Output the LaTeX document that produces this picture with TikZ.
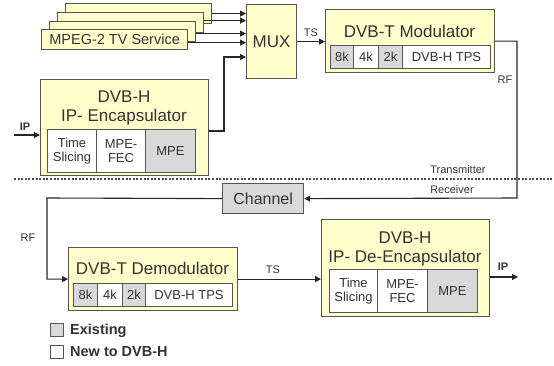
\documentclass[tikz,border=0pt]{standalone}
\usepackage{fontspec}
\setmainfont{Liberation Sans}
\usetikzlibrary{arrows.meta}
\definecolor{yfill}{HTML}{FFFFCC}
\definecolor{gfill}{HTML}{D9D9D9}
\definecolor{txt}{HTML}{333333}
\definecolor{edge}{HTML}{555555}
\begin{document}
\begin{tikzpicture}[x=1pt,y=-1pt,
  ybox/.style={draw=edge, line width=1.2pt, fill=yfill, anchor=north west, inner sep=0},
  cell/.style={draw=edge, line width=1pt, fill=white, anchor=north west, inner sep=0, align=center, text=txt, font=\fontsize{13}{14.5}\selectfont},
  gcell/.style={cell, fill=gfill},
  conn/.style={line width=1.1pt, draw=black!85},
  arr/.style={conn, -{Triangle[length=6pt,width=6pt]}},
  big/.style={font=\fontsize{17}{19}\selectfont, text=txt, inner sep=0},
  small/.style={font=\fontsize{11}{12}\selectfont, text=txt, inner sep=0},
  bsmall/.style={font=\fontsize{11}{12}\selectfont\bfseries, text=txt, inner sep=0},
  legtxt/.style={font=\fontsize{14.5}{16}\selectfont\bfseries, text=txt, inner sep=0, anchor=west}]
\useasboundingbox (0,0) rectangle (554,365);

% MPEG-2 stack
\node[ybox, minimum width=146pt, minimum height=20pt] (mpeg4) at (65,3) {};
\node[ybox, minimum width=146pt, minimum height=20pt] (mpeg3) at (57,12) {};
\node[ybox, minimum width=146pt, minimum height=20pt] (mpeg2) at (49,21) {};
\node[ybox, minimum width=146pt, minimum height=20pt, font=\fontsize{14.5}{16}\selectfont, text=txt] (mpeg1) at (41,29) {MPEG-2 TV Service};

% MUX
\node[ybox, minimum width=50pt, minimum height=74pt, font=\fontsize{17}{19}\selectfont, text=txt] (mux) at (246,4) {MUX};

\draw[arr] (mpeg4.east) -- (mpeg4.east -| mux.west);
\draw[arr] ([yshift=2pt]mpeg3.east) -- ([yshift=2pt]mpeg3.east -| mux.west);
\draw[arr] ([yshift=-2pt]mpeg2.east) -- ([yshift=-2pt]mpeg2.east -| mux.west);
\draw[arr] ([yshift=-3pt]mpeg1.east) -- ([yshift=-3pt]mpeg1.east -| mux.west);

% DVB-T Modulator
\node[ybox, minimum width=169pt, minimum height=63pt] (mod) at (325,9) {};
\node[big] (modt) at (409.5,31) {DVB-T Modulator};
\node[gcell, minimum width=23pt, minimum height=23pt] (m8k) at (330,45) {8k};
\node[cell, minimum width=25pt, minimum height=23pt] (m4k) at (353,45) {4k};
\node[gcell, minimum width=24pt, minimum height=23pt] (m2k) at (378,45) {2k};
\node[cell, minimum width=88pt, minimum height=23pt] (mtps) at (402,45) {DVB-H TPS};

\draw[arr] (mux.east) -- (mux.east -| mod.west);
\node[small] (ts1) at (311,33) {TS};

% DVB-H IP Encapsulator
\node[ybox, minimum width=168pt, minimum height=96pt] (enc) at (40,79) {};
\node[big] (enct1) at (124,97) {DVB-H};
\node[big] (enct2) at (124,117) {IP- Encapsulator};
\node[cell, minimum width=49pt, minimum height=43pt] (ets) at (47,129) {Time\\Slicing};
\node[cell, minimum width=49pt, minimum height=43pt] (efec) at (96,129) {MPE-\\FEC};
\node[gcell, minimum width=50pt, minimum height=43pt] (empe) at (145,129) {MPE};

\coordinate (ipin) at (14,135);
\draw[arr] (ipin) -- (ipin -| enc.west);
\node[bsmall] (iplab1) at (25,127) {IP};

\coordinate (encj) at (224,131);
\coordinate (muxin) at (246,57);
\draw[arr] (enc.east |- encj) -- (encj) |- (muxin);

% separator
\draw[line width=1.3pt, draw=black!70, dash pattern=on 2pt off 1.6pt] (14,179) -- (554,179);
\node[small] (txl) at (458,170) {Transmitter};
\node[small] (rxl) at (452,190) {Receiver};

% Channel
\node[draw=edge, line width=1.2pt, fill=gfill, minimum width=81pt, minimum height=30pt, anchor=north west, inner sep=0, font=\fontsize{16}{18}\selectfont, text=txt] (chan) at (222,183) {Channel};

\coordinate (rfc) at (517,198);
\draw[arr] (mod.east) -| (rfc) -- (chan.east);
\node[small] (rf1) at (505,80) {RF};

% DVB-T Demodulator
\node[ybox, minimum width=169pt, minimum height=63pt] (demod) at (68,247) {};
\node[big] (demodt) at (152.5,268) {DVB-T Demodulator};
\node[gcell, minimum width=24pt, minimum height=23pt] (d8k) at (73,283) {8k};
\node[cell, minimum width=25pt, minimum height=23pt] (d4k) at (97,283) {4k};
\node[gcell, minimum width=23pt, minimum height=23pt] (d2k) at (122,283) {2k};
\node[cell, minimum width=87pt, minimum height=23pt] (dtps) at (145,283) {DVB-H TPS};

\coordinate (rfl) at (47,198);
\draw[arr] (chan.west) -- (rfl) |- (demod.west);
\node[small] (rf2) at (28,238) {RF};

% DVB-H IP De-Encapsulator
\node[ybox, minimum width=168pt, minimum height=97pt] (deenc) at (321,219) {};
\node[big] (dect1) at (405,238) {DVB-H};
\node[big] (dect2) at (405,258) {IP- De-Encapsulator};
\node[cell, minimum width=48pt, minimum height=43pt] (dts) at (329,269) {Time\\Slicing};
\node[cell, minimum width=50pt, minimum height=43pt] (dfec) at (377,269) {MPE-\\FEC};
\node[gcell, minimum width=50pt, minimum height=43pt] (dmpe) at (427,269) {MPE};

\draw[arr] (demod.east) -- (demod.east -| deenc.west);
\node[small] (ts2) at (273,270) {TS};

\coordinate (ipout) at (518,277);
\draw[arr] (deenc.east |- ipout) -- (ipout);
\node[bsmall] (iplab2) at (503,267) {IP};

% legend
\node[draw=edge, line width=1pt, fill=gfill, minimum width=13pt, minimum height=13pt, anchor=north west, inner sep=0] (lg1) at (50,323) {};
\node[legtxt] (lt1) at (70,331) {Existing};
\node[draw=edge, line width=1pt, fill=white, minimum width=13pt, minimum height=13pt, anchor=north west, inner sep=0] (lg2) at (50,345) {};
\node[legtxt] (lt2) at (70,352) {New to DVB-H};
\end{tikzpicture}
\end{document}
